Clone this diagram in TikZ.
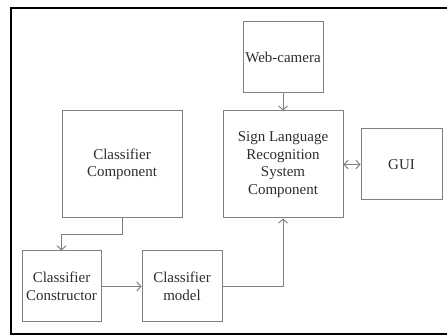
\documentclass[tikz,border=0pt]{standalone}
\usepackage{fontspec}
\setmainfont{Liberation Serif}
\usetikzlibrary{arrows.meta,positioning}
\definecolor{boxgray}{RGB}{128,128,128}
\definecolor{textgray}{RGB}{45,45,45}
\tikzset{%
    component/.style={%
        rectangle, draw=boxgray, line width=1pt, align=center, text=textgray,
        font=\fontsize{15}{17.6}\selectfont, inner sep=0pt
    },
    flow/.style={%
        draw=boxgray, line width=1pt, ->
    },
    frame/.style={%
        draw=black, line width=2pt
    },
}
\begin{document}
\begin{tikzpicture}[x=1pt, y=-1pt, >={Straight Barb[length=4pt,width=9pt]}]

    \useasboundingbox (0,0) rectangle (447,336);
    \draw[frame] (452,8) -- (11,8) -- (11,334) -- (452,334);

    \node[component, minimum width=80pt, minimum height=71pt] (webcam) at (283,57.5) {Web-camera};
    \node[component, minimum width=120pt, minimum height=107pt] (slr) at (283,164.5) {Sign Language\\Recognition\\System\\Component};
    \node[component, minimum width=81pt, minimum height=71pt] (gui) at (401.5,164.5) {GUI};

    \node[component, minimum width=120pt, minimum height=107pt] (classcomp) at (122,164.5) {Classifier\\Component};
    \node[component, minimum width=79pt, minimum height=71pt] (constructor) at (61.5,286.5) {Classifier\\Constructor};
    \node[component, minimum width=80pt, minimum height=71pt] (model) at (182,286.5) {Classifier\\model};

    \draw[flow] (webcam) -- (slr);
    \draw[flow, <->] (slr) -- (gui);
    \draw[flow] (classcomp.south) |- (61.5,235) -- (constructor.north);
    \draw[flow] (constructor) -- (model);
    \draw[flow] (model.east) -| (slr.south);

  \end{tikzpicture}
\end{document}
